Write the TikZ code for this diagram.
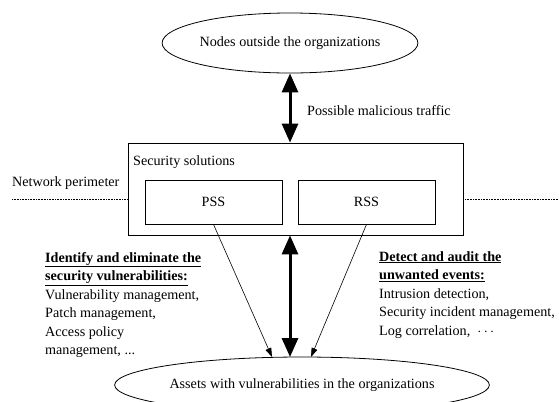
\documentclass[tikz,border=0pt]{standalone}
\usepackage{fontspec}
\setmainfont{Liberation Serif}
\usetikzlibrary{shapes.geometric,arrows.meta,positioning}

\tikzset{
  txt/.style={font=\fontsize{14.2}{18.6}\selectfont, inner sep=0pt},
  sysbox/.style={draw, line width=0.8pt, rectangle, inner sep=0pt},
  blob/.style={draw, line width=0.8pt, ellipse, inner sep=0pt},
  bigflow/.style={line width=3pt, {Triangle[length=19bp,width=16bp]}-{Triangle[length=19bp,width=16bp]}},
  thinflow/.style={line width=0.6pt, -{Triangle[length=9bp,width=6bp]}},
  perim/.style={densely dotted, line width=0.6pt}
}

\begin{document}
\begin{tikzpicture}[x=1bp, y=-1bp]
\useasboundingbox (0,0) rectangle (559,401);

\def\xm{290};

% outside and inside
\node[blob, txt, minimum width=236bp, minimum height=60bp] (outside) at (\xm, 43) {Nodes outside the organizations};
\node[sysbox, minimum width=335bp, minimum height=92bp] (sec) at (295.5, 189) {};
\node[blob, txt, minimum width=372bp, minimum height=56bp] (assets) at (302, 385) {Assets with vulnerabilities in the organizations};

\node[txt, anchor=west] (sectitle) at (133, 162) {Security solutions};
\node[sysbox, txt, minimum width=137bp, minimum height=44bp] (pss) at (213.5, 202) {PSS};
\node[sysbox, txt, minimum width=137bp, minimum height=44bp] (rss) at (366.5, 202) {RSS};

% network perimeter
\node[txt, anchor=west] (perimlabel) at (12, 183) {Network perimeter};
\coordinate (pl) at (12, 199);
\coordinate (pr) at (559, 199);
\draw[perim] (pl) -- (pl -| sec.west);
\draw[perim] (pr -| sec.east) -- (pr);

% traffic
\draw[bigflow] (outside.south) -- (sec.north -| outside.south);
\node[txt, anchor=west] (traffic) at (307, 111) {Possible malicious traffic};

\coordinate (pssend) at (272, 357);
\coordinate (rssend) at (311, 357);
\draw[bigflow] (sec.south -| \xm, 0) -- (\xm, 357);
\draw[thinflow] (pss.south) -- (pssend);
\draw[thinflow] (rss.south) -- (rssend);

% what each side does
\node[txt, anchor=north west, align=left] (psstext) at (45, 252)
  {\underline{\textbf{Identify and eliminate the}}\\
   \underline{\textbf{security vulnerabilities:}}\\
   Vulnerability management,\\
   Patch management,\\
   Access policy\\
   management, ...};
\node[txt, anchor=north west, align=left] (rsstext) at (379, 251)
  {\underline{\textbf{Detect and audit the}}\\
   \underline{\textbf{unwanted events:}}\\
   Intrusion detection,\\
   Security incident management,\\
   Log correlation, \ $\cdots$};

\end{tikzpicture}
\end{document}
